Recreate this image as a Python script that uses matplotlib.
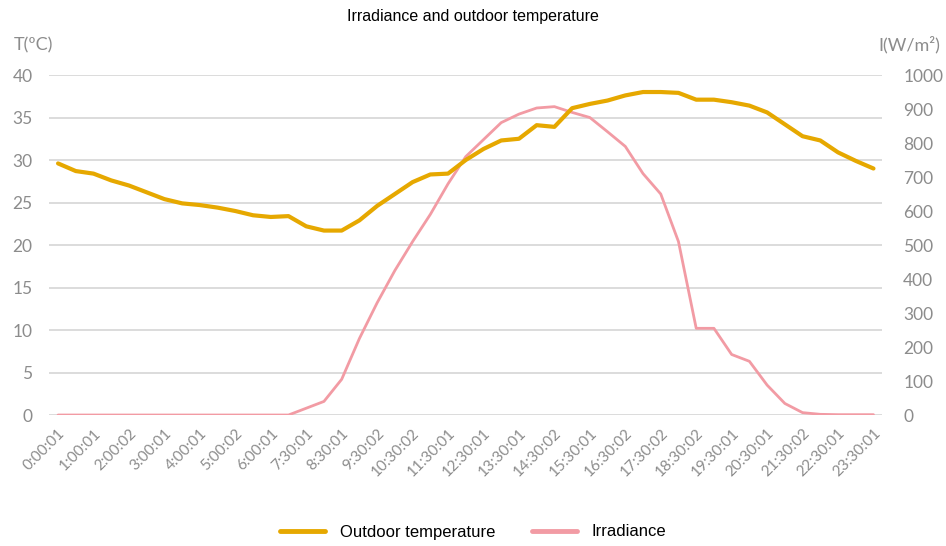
import matplotlib
matplotlib.use("Agg")
import matplotlib.pyplot as plt

times = ["0:00:01", "0:30:01", "1:00:01", "1:30:01", "2:00:02", "2:30:01", "3:00:01", "3:30:01",
         "4:00:01", "4:30:01", "5:00:02", "5:30:01", "6:00:01", "6:30:01", "7:30:01", "8:00:01",
         "8:30:01", "9:00:01", "9:30:02", "10:00:01", "10:30:02", "11:00:01", "11:30:01", "12:00:01",
         "12:30:01", "13:00:01", "13:30:01", "14:00:01", "14:30:02", "15:00:01", "15:30:01", "16:00:01",
         "16:30:02", "17:00:01", "17:30:02", "18:00:01", "18:30:02", "19:00:01", "19:30:01", "20:00:01",
         "20:30:01", "21:00:01", "21:30:02", "22:00:01", "22:30:01", "23:00:01", "23:30:01"]

temperature = [29.6, 28.7, 28.4, 27.6, 27.0, 26.2, 25.4, 24.9, 24.7, 24.4, 24.0, 23.5, 23.3, 23.4,
               22.2, 21.7, 21.7, 22.9, 24.6, 26.0, 27.4, 28.3, 28.4, 30.0, 31.3, 32.3, 32.5, 34.1,
               33.9, 36.1, 36.6, 37.0, 37.6, 38.0, 38.0, 37.9, 37.1, 37.1, 36.8, 36.4, 35.6, 34.2,
               32.8, 32.3, 30.9, 29.9, 29.0]

irradiance = [0, 0, 0, 0, 0, 0, 0, 0, 0, 0, 0, 0, 0, 0, 20, 40, 105, 225, 330, 425, 510, 590, 680,
              760, 810, 860, 885, 903, 907, 890, 875, 833, 790, 710, 650, 510, 255, 255, 178, 158,
              88, 34, 7, 2, 1, 1, 1]

temp_ticks = [0, 5, 10, 15, 20, 25, 30, 35, 40]
irr_ticks = [0, 100, 200, 300, 400, 500, 600, 700, 800, 900, 1000]

TEMP_COLOR = "#E6A800"
IRR_COLOR = "#F29BA4"
GRID = "#D9D9D9"
TICK_GRAY = "#8C8C8C"
TICK_FONT = ["Lato", "DejaVu Sans"]
ARIAL = ["Liberation Sans", "DejaVu Sans"]

fig = plt.figure(figsize=(9.46, 5.46), dpi=100)
ax = fig.add_axes([0.052, 0.2399, 0.9327 - 0.052, 0.8626 - 0.2399])
ax2 = ax.twinx()

x = list(range(len(times)))
ax.set_zorder(ax2.get_zorder() + 1)
ax.patch.set_visible(False)

l1, = ax.plot(x, temperature, color=TEMP_COLOR, lw=3.0, solid_joinstyle="round",
              solid_capstyle="round", label="Outdoor temperature")
l2, = ax2.plot(x, irradiance, color=IRR_COLOR, lw=2.0, solid_joinstyle="round",
               solid_capstyle="round", label="Irradiance")

ax.set_ylim(0, 40)
ax2.set_ylim(0, 1000)
ax.set_xlim(-0.5, len(times) - 0.5)
ax.set_yticks(temp_ticks)
ax2.set_yticks(irr_ticks)
ax2.grid(False)
ax.grid(False)
for t in temp_ticks:
    ax2.axhline(t * 25, color=GRID, lw=1.3, zorder=0)

for a in (ax, ax2):
    for s in a.spines.values():
        s.set_visible(False)

ax.set_xticks(x[::2])
ax.set_xticklabels(times[::2], rotation=45, ha="right", rotation_mode="anchor",
                   color=TICK_GRAY, fontsize=11, family=TICK_FONT)
ax.tick_params(axis="x", length=0, pad=8)
ax.tick_params(axis="y", length=0, pad=12, labelcolor=TICK_GRAY, labelsize=12.5)
ax2.tick_params(axis="y", length=0, pad=15, labelcolor=TICK_GRAY, labelsize=12.5)
for lab in ax.get_yticklabels() + ax2.get_yticklabels():
    lab.set_family(TICK_FONT)

fig.text(0.5, 1 - 17 / 546, "Irradiance and outdoor temperature", ha="center", va="center",
         fontsize=11.5, family=ARIAL, color="black")
fig.text(14 / 946, 1 - 45 / 546, "T(ºC)", ha="left", va="center", fontsize=13,
         family=TICK_FONT, color=TICK_GRAY)
fig.text(940 / 946, 1 - 45 / 546, "I(W/m²)", ha="right", va="center", fontsize=13,
         family=TICK_FONT, color=TICK_GRAY)

leg = fig.legend([l1, l2], ["Outdoor temperature", "Irradiance"], loc="center",
                 bbox_to_anchor=(0.5, 1 - 532 / 546), ncol=2, frameon=False,
                 handlelength=2.7, columnspacing=2.2, handletextpad=0.9,
                 prop={"family": ARIAL, "size": 12})
for h in leg.get_lines():
    h.set_linewidth(3.5)

fig.savefig("out.png", dpi=100)
